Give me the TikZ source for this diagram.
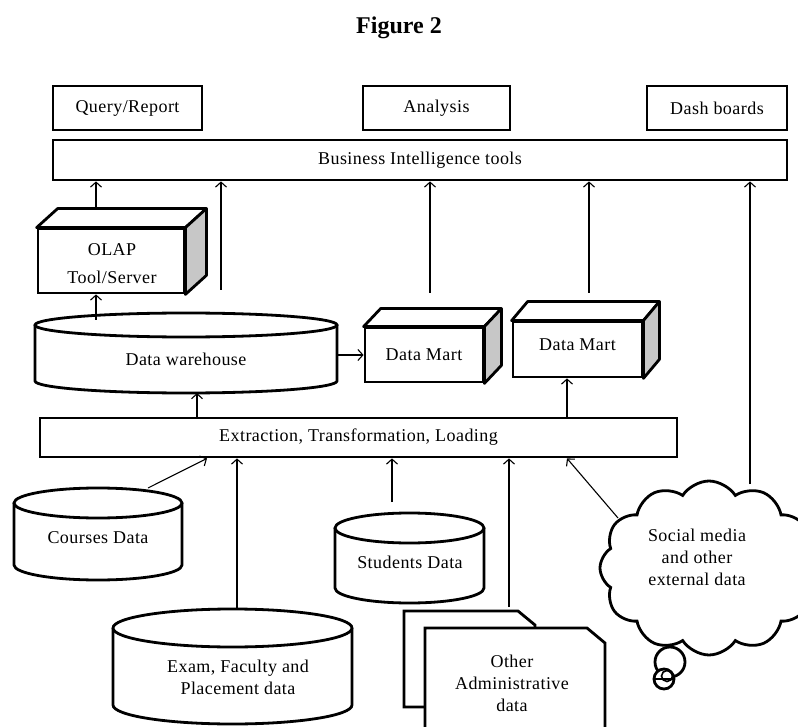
\documentclass[tikz,border=0pt]{standalone}
\usepackage{fontspec}
\setmainfont{Liberation Serif}[LetterSpace=2.5]
\newfontfamily\figtitlefont{Liberation Serif}
\usetikzlibrary{arrows.meta,calc,shapes.symbols}
\begin{document}
\begin{tikzpicture}[x=1pt,y=-1pt,
  txt/.style={font=\fontsize{18}{22}\selectfont, align=center, inner sep=0pt},
  box/.style={txt, draw, line width=2.8pt, fill=white},
  arr/.style={line width=1.1pt, -{Straight Barb[length=5pt,width=11pt,line width=1.1pt]}},
  outline/.style={line width=2.8pt, line join=miter},
  sideface/.style={line width=2.8pt, fill=black!22, line join=round},
  topface/.style={line width=2.8pt, fill=white, line join=round}]

\useasboundingbox (0,0) rectangle (798,727);
\clip (0,0) rectangle (798,727);

\node[font=\figtitlefont\bfseries\fontsize{24}{28}\selectfont, inner sep=0pt] (title) at (399,28) {Figure 2};

% top boxes
\node[box, minimum width=149pt, minimum height=44pt] (query) at (127.5,108) {Query/Report};
\node[box, minimum width=147pt, minimum height=44pt] (analysis) at (436.5,108) {Analysis};
\node[box, minimum width=140pt, minimum height=44pt] (dash) at (717,108) {Dash boards};
\node[box, minimum width=734pt, minimum height=40pt] (bi) at (420,160) {Business Intelligence tools};

% OLAP 3D box
\node[box, minimum width=146pt, minimum height=64pt] (olap) at (111,261) {};
\draw[topface] (olap.north west) -- ++(21,-19) -- ($(olap.north east)+(21,-19)$) -- (olap.north east) -- cycle;
\draw[sideface] (olap.north east) -- ++(21,-19) -- ($(olap.south east)+(21,-19)$) -- (olap.south east) -- cycle;
\node[txt] (olaptxt) at (112,264) {OLAP\\[6pt]Tool/Server};

% Data marts
\node[box, minimum width=118pt, minimum height=54pt] (dm1) at (424,355) {Data Mart};
\draw[topface] (dm1.north west) -- ++(17,-18) -- ($(dm1.north east)+(17,-18)$) -- (dm1.north east) -- cycle;
\draw[sideface] (dm1.north east) -- ++(17,-18) -- ($(dm1.south east)+(17,-18)$) -- (dm1.south east) -- cycle;

\node[box, minimum width=129pt, minimum height=55pt] (dm2) at (577.5,349.5) {\raisebox{9pt}{Data Mart}};
\draw[topface] (dm2.north west) -- ++(16,-19) -- ($(dm2.north east)+(16,-19)$) -- (dm2.north east) -- cycle;
\draw[sideface] (dm2.north east) -- ++(16,-19) -- ($(dm2.south east)+(16,-19)$) -- (dm2.south east) -- cycle;

% Data warehouse cylinder
\filldraw[outline, fill=white] (35,325) -- (35,381) arc[start angle=180, end angle=360, x radius=151pt, y radius=12pt] -- (337,325);
\draw[outline, fill=white] (186,325) ellipse [x radius=151pt, y radius=12pt];
\node[txt] (dw) at (186,359) {Data warehouse};

% ETL bar
\node[box, minimum width=637pt, minimum height=39pt] (etl) at (358.5,437.5) {Extraction, Transformation, Loading};

% Courses cylinder
\filldraw[outline, fill=white] (14,503) -- (14,565) arc[start angle=180, end angle=360, x radius=84pt, y radius=15pt] -- (182,503);
\draw[outline, fill=white] (98,503) ellipse [x radius=84pt, y radius=15pt];
\node[txt] (courses) at (98,538) {Courses Data};

% Students cylinder
\filldraw[outline, fill=white] (335,528) -- (335,588) arc[start angle=180, end angle=360, x radius=74.5pt, y radius=15pt] -- (484,528);
\draw[outline, fill=white] (409.5,528) ellipse [x radius=74.5pt, y radius=15pt];
\node[txt] (students) at (410,562) {Students Data};

% Exam cylinder
\filldraw[outline, fill=white] (113,628) -- (113,705) arc[start angle=180, end angle=360, x radius=119.5pt, y radius=19pt] -- (352,628);
\draw[outline, fill=white] (232.5,628) ellipse [x radius=119.5pt, y radius=19pt];
\node[txt] (exam) at (238,677) {Exam, Faculty and\\Placement data};

% Administrative documents
\filldraw[outline, fill=white] (404,611) -- (518,611) -- (535,625) -- (535,707) -- (404,707) -- cycle;
\filldraw[outline, fill=white] (425,628) -- (587,628) -- (605,643) -- (605,760) -- (425,760) -- cycle;
\node[txt] (admin) at (512,683) {Other\\Administrative\\data};

% Cloud
\node[cloud, draw, line width=2.8pt, fill=white, cloud puffs=12, cloud puff arc=115, aspect=1.25, minimum width=218pt, minimum height=174pt] (cloud) at (709,568) {};
\node[txt] (cloudtxt) at (697,557) {Social media\\and other\\external data};
\draw[outline, fill=white] (670,662) circle (15pt);
\draw[outline, fill=white] (664,679) circle (10pt);
\draw[line width=1.6pt] (667,676) circle (5.5pt);
\draw[line width=1.6pt] (655,679) -- (673,679);

% coordinates for connectors
\coordinate (s1) at (96,210);
\coordinate (s2) at (221,290);
\coordinate (s3) at (430,293);
\coordinate (s4) at (589,293);
\coordinate (s5) at (750,484);
\coordinate (s6) at (96,320);
\coordinate (dwR) at (337,355);
\coordinate (s8) at (197,393);
\coordinate (s9) at (567,400);
\coordinate (c1) at (148,488);
\coordinate (e1) at (207,400);
\coordinate (x1) at (237,608);
\coordinate (st1) at (392,502);
\coordinate (a1) at (509,607);
\coordinate (cl1) at (618,518);

% connectors to BI tools
\draw[arr] (s1) -- (s1 |- bi.south);
\draw[arr] (s2) -- (s2 |- bi.south);
\draw[arr] (s3) -- (s3 |- bi.south);
\draw[arr] (s4) -- (s4 |- bi.south);
\draw[arr] (s5) -- (s5 |- bi.south);
% warehouse
\draw[arr] (s6) -- (s6 |- olap.south);
\draw[arr] (dwR) -- (dm1.west);
\draw[arr] (s8 |- etl.north) -- (s8);
\draw[arr] (s9 |- etl.north) -- (s9 |- dm2.south);
% sources to ETL
\draw[arr] (c1) -- (e1 |- etl.south);
\draw[arr] (x1) -- (x1 |- etl.south);
\draw[arr] (st1) -- (st1 |- etl.south);
\draw[arr] (a1) -- (a1 |- etl.south);
\draw[arr] (cl1) -- (s9 |- etl.south);
\end{tikzpicture}
\end{document}
